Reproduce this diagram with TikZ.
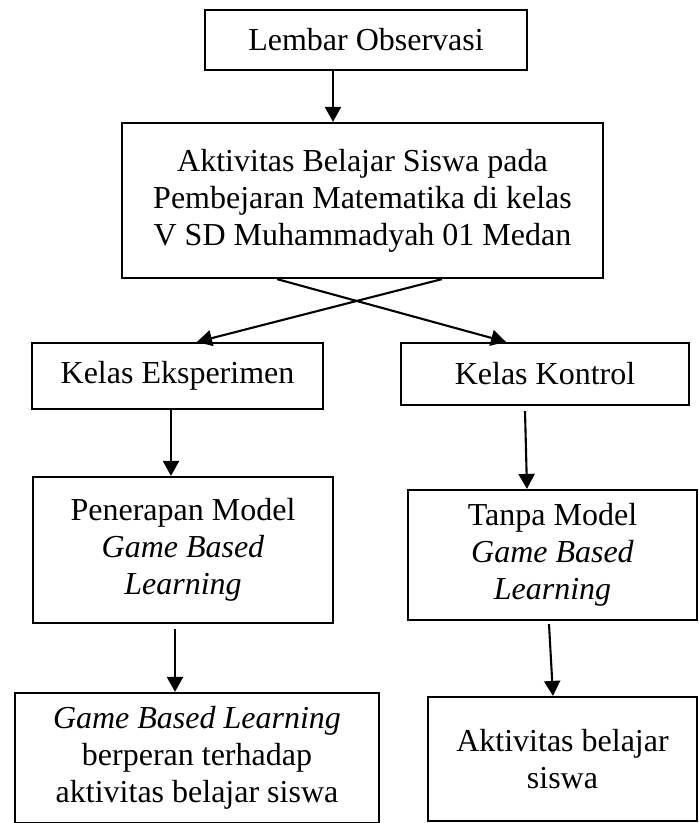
\documentclass[tikz,border=0pt]{standalone}
\usepackage{fontspec}
\setmainfont{Liberation Serif}
\usetikzlibrary{arrows.meta,calc}
\tikzset{
  box/.style={draw=black, line width=2.2pt, rectangle, inner sep=0pt, align=center,
    font=\fontsize{32}{37}\selectfont},
  arr/.style={draw=black, line width=2.1pt, -{Triangle[length=15pt,width=16pt]}}
}
\begin{document}
\begin{tikzpicture}[x=1pt,y=-1pt]
\useasboundingbox (0,0) rectangle (699,823);
\clip (0,0) rectangle (699,823);
\fill[white] (0,0) rectangle (699,823);
\node[box, minimum width=322pt, minimum height=60pt] (n1) at (366,40) {Lembar Observasi};
\node[box, minimum width=481pt, minimum height=155pt] (n2) at (362.5,200.5)
  {Aktivitas Belajar Siswa pada\\Pembejaran Matematika di kelas\\V SD Muhammadyah 01 Medan};
\node[box, minimum width=291pt, minimum height=66pt] (n3) at (177.5,376) {Kelas Eksperimen};
\node[box, minimum width=288pt, minimum height=62pt] (n4) at (545,374) {Kelas Kontrol};
\node[box, minimum width=300pt, minimum height=146pt] (n5) at (183,550)
  {Penerapan Model\\\textit{Game Based}\\\textit{Learning}};
\node[box, minimum width=289pt, minimum height=130pt] (n6) at (552.5,555)
  {Tanpa Model\\\textit{Game Based}\\\textit{Learning}};
\node[box, minimum width=364pt, minimum height=130pt] (n7) at (197,758)
  {\textit{Game Based Learning}\\berperan terhadap\\aktivitas belajar siswa};
\node[box, minimum width=269pt, minimum height=124pt] (n8) at (562.5,759)
  {Aktivitas belajar\\siswa};
% x-positions of connectors
\coordinate (xa) at (333,0);
\coordinate (xb) at (277,0);
\coordinate (xc) at (506,0);
\coordinate (xd) at (442,0);
\coordinate (xe) at (197,0);
\coordinate (xf) at (171,0);
\coordinate (xg1) at (525,0);
\coordinate (xg2) at (527,0);
\coordinate (xh) at (175,0);
\coordinate (xi1) at (549,0);
\coordinate (xi2) at (553,0);
\draw[arr] (n1.south -| xa) -- (n2.north -| xa);
\draw[arr] (n2.south -| xb) -- (n4.north -| xc);
\draw[arr] (n2.south -| xd) -- (n3.north -| xe);
\draw[arr] (n3.south -| xf) -- (n5.north -| xf);
\draw[arr] ($(n4.south -| xg1)+(0,5)$) -- (n6.north -| xg2);
\draw[arr] ($(n5.south -| xh)+(0,5)$) -- (n7.north -| xh);
\draw[arr] ($(n6.south -| xi1)+(0,3)$) -- (n8.north -| xi2);
\end{tikzpicture}
\end{document}
